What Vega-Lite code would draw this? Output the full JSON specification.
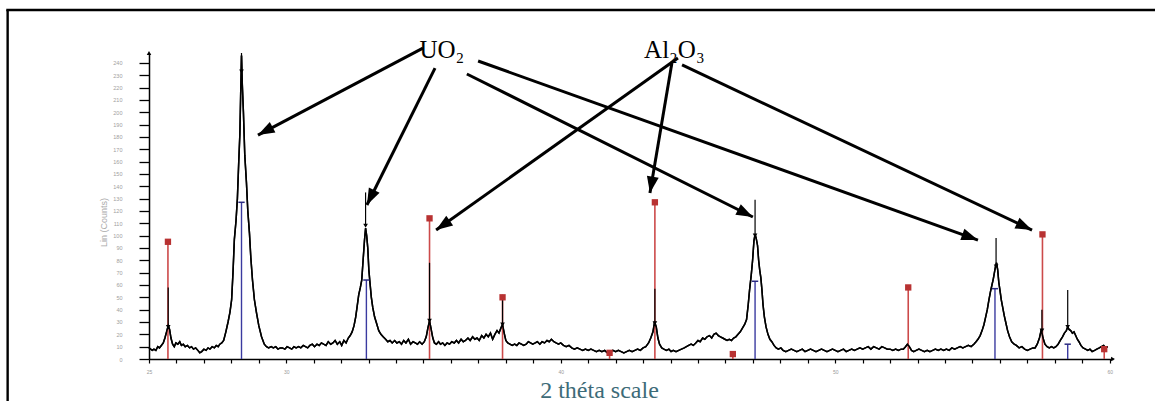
{
  "$schema": "https://vega.github.io/schema/vega-lite/v6.json",
  "autosize": {"type": "none"},
  "padding": {"left": 149, "top": 53, "right": 42, "bottom": 42},
  "width": 964,
  "height": 306,
  "background": "white",
  "config": {"view": {"stroke": null}},
  "datasets": {
    "pattern": [
      {"theta":25.00,"counts":9},{"theta":25.06,"counts":8},{"theta":25.12,"counts":7},{"theta":25.18,"counts":8},{"theta":25.25,"counts":7},{"theta":25.32,"counts":10},{"theta":25.38,"counts":9},{"theta":25.45,"counts":11},{"theta":25.52,"counts":13},{"theta":25.58,"counts":17},{"theta":25.64,"counts":22},{"theta":25.70,"counts":27},{"theta":25.75,"counts":24},{"theta":25.80,"counts":17},{"theta":25.86,"counts":12},{"theta":25.92,"counts":10},{"theta":25.98,"counts":13},{"theta":26.05,"counts":12},{"theta":26.12,"counts":14},{"theta":26.18,"counts":11},{"theta":26.25,"counts":12},{"theta":26.32,"counts":10},{"theta":26.40,"counts":11},{"theta":26.48,"counts":9},{"theta":26.55,"counts":10},{"theta":26.62,"counts":8},{"theta":26.70,"counts":9},{"theta":26.78,"counts":7},{"theta":26.85,"counts":5},{"theta":26.92,"counts":6},{"theta":27.00,"counts":8},{"theta":27.08,"counts":7},{"theta":27.15,"counts":9},{"theta":27.22,"counts":8},{"theta":27.30,"counts":10},{"theta":27.38,"counts":9},{"theta":27.45,"counts":11},{"theta":27.52,"counts":10},{"theta":27.58,"counts":12},{"theta":27.65,"counts":13},{"theta":27.72,"counts":15},{"theta":27.80,"counts":22},{"theta":27.88,"counts":30},{"theta":27.95,"counts":38},{"theta":28.01,"counts":48},{"theta":28.06,"counts":70},{"theta":28.11,"counts":97},{"theta":28.17,"counts":112},{"theta":28.22,"counts":130},{"theta":28.27,"counts":160},{"theta":28.31,"counts":182},{"theta":28.34,"counts":215},{"theta":28.37,"counts":246},{"theta":28.40,"counts":222},{"theta":28.44,"counts":200},{"theta":28.49,"counts":165},{"theta":28.55,"counts":143},{"theta":28.60,"counts":120},{"theta":28.66,"counts":102},{"theta":28.71,"counts":82},{"theta":28.77,"counts":64},{"theta":28.84,"counts":48},{"theta":28.92,"counts":37},{"theta":29.00,"counts":27},{"theta":29.10,"counts":18},{"theta":29.20,"counts":12},{"theta":29.28,"counts":10},{"theta":29.36,"counts":9},{"theta":29.45,"counts":10},{"theta":29.53,"counts":9},{"theta":29.62,"counts":10},{"theta":29.70,"counts":8},{"theta":29.78,"counts":9},{"theta":29.86,"counts":9},{"theta":29.95,"counts":8},{"theta":30.03,"counts":10},{"theta":30.12,"counts":9},{"theta":30.20,"counts":8},{"theta":30.28,"counts":10},{"theta":30.36,"counts":9},{"theta":30.45,"counts":10},{"theta":30.53,"counts":9},{"theta":30.62,"counts":11},{"theta":30.70,"counts":10},{"theta":30.78,"counts":9},{"theta":30.86,"counts":11},{"theta":30.95,"counts":12},{"theta":31.03,"counts":10},{"theta":31.12,"counts":12},{"theta":31.20,"counts":11},{"theta":31.28,"counts":13},{"theta":31.36,"counts":12},{"theta":31.45,"counts":11},{"theta":31.53,"counts":14},{"theta":31.62,"counts":12},{"theta":31.70,"counts":13},{"theta":31.78,"counts":15},{"theta":31.86,"counts":12},{"theta":31.95,"counts":14},{"theta":32.02,"counts":11},{"theta":32.10,"counts":15},{"theta":32.18,"counts":13},{"theta":32.26,"counts":17},{"theta":32.33,"counts":19},{"theta":32.40,"counts":22},{"theta":32.47,"counts":27},{"theta":32.53,"counts":34},{"theta":32.58,"counts":42},{"theta":32.64,"counts":52},{"theta":32.70,"counts":58},{"theta":32.75,"counts":64},{"theta":32.80,"counts":80},{"theta":32.85,"counts":96},{"theta":32.89,"counts":106},{"theta":32.93,"counts":100},{"theta":32.97,"counts":90},{"theta":33.01,"counts":72},{"theta":33.05,"counts":62},{"theta":33.10,"counts":50},{"theta":33.15,"counts":42},{"theta":33.22,"counts":34},{"theta":33.29,"counts":29},{"theta":33.37,"counts":23},{"theta":33.45,"counts":20},{"theta":33.53,"counts":18},{"theta":33.62,"counts":16},{"theta":33.70,"counts":14},{"theta":33.78,"counts":15},{"theta":33.86,"counts":13},{"theta":33.95,"counts":15},{"theta":34.03,"counts":13},{"theta":34.12,"counts":14},{"theta":34.20,"counts":12},{"theta":34.28,"counts":15},{"theta":34.36,"counts":13},{"theta":34.45,"counts":16},{"theta":34.53,"counts":12},{"theta":34.62,"counts":14},{"theta":34.70,"counts":13},{"theta":34.78,"counts":12},{"theta":34.86,"counts":14},{"theta":34.95,"counts":12},{"theta":35.03,"counts":14},{"theta":35.10,"counts":18},{"theta":35.16,"counts":25},{"theta":35.22,"counts":31},{"theta":35.28,"counts":24},{"theta":35.34,"counts":17},{"theta":35.40,"counts":13},{"theta":35.47,"counts":12},{"theta":35.55,"counts":14},{"theta":35.62,"counts":12},{"theta":35.70,"counts":13},{"theta":35.78,"counts":11},{"theta":35.86,"counts":13},{"theta":35.95,"counts":12},{"theta":36.03,"counts":14},{"theta":36.12,"counts":13},{"theta":36.20,"counts":15},{"theta":36.28,"counts":13},{"theta":36.37,"counts":16},{"theta":36.45,"counts":14},{"theta":36.53,"counts":15},{"theta":36.62,"counts":17},{"theta":36.70,"counts":15},{"theta":36.79,"counts":18},{"theta":36.87,"counts":16},{"theta":36.95,"counts":17},{"theta":37.03,"counts":15},{"theta":37.12,"counts":19},{"theta":37.20,"counts":17},{"theta":37.28,"counts":20},{"theta":37.36,"counts":18},{"theta":37.44,"counts":21},{"theta":37.52,"counts":16},{"theta":37.60,"counts":20},{"theta":37.68,"counts":23},{"theta":37.75,"counts":21},{"theta":37.82,"counts":25},{"theta":37.88,"counts":28},{"theta":37.94,"counts":21},{"theta":38.00,"counts":15},{"theta":38.07,"counts":13},{"theta":38.15,"counts":12},{"theta":38.23,"counts":11},{"theta":38.32,"counts":12},{"theta":38.40,"counts":11},{"theta":38.48,"counts":13},{"theta":38.57,"counts":12},{"theta":38.65,"counts":11},{"theta":38.74,"counts":12},{"theta":38.82,"counts":14},{"theta":38.90,"counts":13},{"theta":38.98,"counts":12},{"theta":39.07,"counts":13},{"theta":39.15,"counts":14},{"theta":39.24,"counts":12},{"theta":39.32,"counts":14},{"theta":39.41,"counts":13},{"theta":39.50,"counts":15},{"theta":39.58,"counts":14},{"theta":39.66,"counts":16},{"theta":39.75,"counts":14},{"theta":39.83,"counts":13},{"theta":39.92,"counts":12},{"theta":40.00,"counts":13},{"theta":40.10,"counts":11},{"theta":40.20,"counts":10},{"theta":40.30,"counts":11},{"theta":40.40,"counts":9},{"theta":40.50,"counts":8},{"theta":40.60,"counts":9},{"theta":40.70,"counts":8},{"theta":40.80,"counts":7},{"theta":40.90,"counts":8},{"theta":41.00,"counts":7},{"theta":41.10,"counts":8},{"theta":41.20,"counts":7},{"theta":41.30,"counts":6},{"theta":41.40,"counts":7},{"theta":41.50,"counts":6},{"theta":41.60,"counts":7},{"theta":41.70,"counts":5},{"theta":41.80,"counts":6},{"theta":41.90,"counts":7},{"theta":42.00,"counts":6},{"theta":42.10,"counts":7},{"theta":42.20,"counts":6},{"theta":42.30,"counts":5},{"theta":42.40,"counts":6},{"theta":42.50,"counts":7},{"theta":42.60,"counts":6},{"theta":42.70,"counts":7},{"theta":42.80,"counts":8},{"theta":42.90,"counts":7},{"theta":43.00,"counts":9},{"theta":43.10,"counts":10},{"theta":43.20,"counts":13},{"theta":43.28,"counts":17},{"theta":43.36,"counts":22},{"theta":43.42,"counts":30},{"theta":43.48,"counts":26},{"theta":43.54,"counts":17},{"theta":43.60,"counts":12},{"theta":43.68,"counts":9},{"theta":43.76,"counts":8},{"theta":43.85,"counts":7},{"theta":43.94,"counts":8},{"theta":44.02,"counts":6},{"theta":44.10,"counts":7},{"theta":44.20,"counts":6},{"theta":44.30,"counts":7},{"theta":44.40,"counts":8},{"theta":44.50,"counts":9},{"theta":44.58,"counts":10},{"theta":44.66,"counts":11},{"theta":44.75,"counts":12},{"theta":44.83,"counts":11},{"theta":44.92,"counts":13},{"theta":45.00,"counts":15},{"theta":45.08,"counts":14},{"theta":45.17,"counts":17},{"theta":45.25,"counts":16},{"theta":45.33,"counts":18},{"theta":45.42,"counts":19},{"theta":45.50,"counts":17},{"theta":45.58,"counts":20},{"theta":45.66,"counts":21},{"theta":45.74,"counts":19},{"theta":45.82,"counts":18},{"theta":45.90,"counts":17},{"theta":45.98,"counts":16},{"theta":46.06,"counts":15},{"theta":46.14,"counts":16},{"theta":46.22,"counts":15},{"theta":46.30,"counts":17},{"theta":46.38,"counts":18},{"theta":46.46,"counts":20},{"theta":46.54,"counts":22},{"theta":46.62,"counts":25},{"theta":46.70,"counts":28},{"theta":46.77,"counts":32},{"theta":46.83,"counts":44},{"theta":46.88,"counts":56},{"theta":46.94,"counts":68},{"theta":46.99,"counts":80},{"theta":47.04,"counts":96},{"theta":47.08,"counts":101},{"theta":47.12,"counts":98},{"theta":47.17,"counts":92},{"theta":47.21,"counts":80},{"theta":47.25,"counts":72},{"theta":47.29,"counts":66},{"theta":47.33,"counts":56},{"theta":47.37,"counts":44},{"theta":47.42,"counts":34},{"theta":47.48,"counts":26},{"theta":47.55,"counts":20},{"theta":47.62,"counts":16},{"theta":47.69,"counts":14},{"theta":47.77,"counts":11},{"theta":47.85,"counts":9},{"theta":47.93,"counts":8},{"theta":48.02,"counts":9},{"theta":48.10,"counts":7},{"theta":48.20,"counts":6},{"theta":48.30,"counts":7},{"theta":48.40,"counts":8},{"theta":48.50,"counts":7},{"theta":48.60,"counts":6},{"theta":48.70,"counts":7},{"theta":48.80,"counts":8},{"theta":48.90,"counts":6},{"theta":49.00,"counts":7},{"theta":49.10,"counts":8},{"theta":49.20,"counts":7},{"theta":49.30,"counts":6},{"theta":49.40,"counts":7},{"theta":49.50,"counts":8},{"theta":49.60,"counts":7},{"theta":49.70,"counts":6},{"theta":49.80,"counts":7},{"theta":49.90,"counts":8},{"theta":50.00,"counts":7},{"theta":50.10,"counts":6},{"theta":50.20,"counts":7},{"theta":50.30,"counts":8},{"theta":50.40,"counts":6},{"theta":50.50,"counts":7},{"theta":50.60,"counts":8},{"theta":50.70,"counts":7},{"theta":50.80,"counts":8},{"theta":50.90,"counts":9},{"theta":51.00,"counts":8},{"theta":51.10,"counts":9},{"theta":51.20,"counts":10},{"theta":51.30,"counts":8},{"theta":51.40,"counts":10},{"theta":51.50,"counts":9},{"theta":51.60,"counts":8},{"theta":51.70,"counts":10},{"theta":51.80,"counts":9},{"theta":51.90,"counts":8},{"theta":52.00,"counts":8},{"theta":52.10,"counts":7},{"theta":52.20,"counts":8},{"theta":52.30,"counts":7},{"theta":52.40,"counts":8},{"theta":52.48,"counts":8},{"theta":52.56,"counts":10},{"theta":52.63,"counts":12},{"theta":52.70,"counts":10},{"theta":52.78,"counts":7},{"theta":52.86,"counts":6},{"theta":52.95,"counts":7},{"theta":53.05,"counts":8},{"theta":53.15,"counts":7},{"theta":53.25,"counts":6},{"theta":53.35,"counts":7},{"theta":53.45,"counts":6},{"theta":53.55,"counts":7},{"theta":53.65,"counts":8},{"theta":53.75,"counts":7},{"theta":53.85,"counts":8},{"theta":53.95,"counts":7},{"theta":54.05,"counts":8},{"theta":54.15,"counts":7},{"theta":54.25,"counts":9},{"theta":54.35,"counts":8},{"theta":54.45,"counts":9},{"theta":54.55,"counts":10},{"theta":54.65,"counts":9},{"theta":54.75,"counts":10},{"theta":54.85,"counts":11},{"theta":54.95,"counts":10},{"theta":55.05,"counts":12},{"theta":55.13,"counts":14},{"theta":55.20,"counts":16},{"theta":55.28,"counts":19},{"theta":55.35,"counts":23},{"theta":55.42,"counts":28},{"theta":55.48,"counts":34},{"theta":55.54,"counts":40},{"theta":55.60,"counts":48},{"theta":55.66,"counts":55},{"theta":55.71,"counts":60},{"theta":55.76,"counts":65},{"theta":55.80,"counts":70},{"theta":55.84,"counts":75},{"theta":55.88,"counts":78},{"theta":55.92,"counts":72},{"theta":55.96,"counts":62},{"theta":56.00,"counts":56},{"theta":56.05,"counts":48},{"theta":56.10,"counts":42},{"theta":56.16,"counts":35},{"theta":56.22,"counts":29},{"theta":56.28,"counts":23},{"theta":56.35,"counts":18},{"theta":56.43,"counts":14},{"theta":56.52,"counts":12},{"theta":56.60,"counts":11},{"theta":56.70,"counts":9},{"theta":56.80,"counts":10},{"theta":56.90,"counts":8},{"theta":57.00,"counts":7},{"theta":57.10,"counts":8},{"theta":57.20,"counts":9},{"theta":57.28,"counts":9},{"theta":57.36,"counts":12},{"theta":57.44,"counts":17},{"theta":57.51,"counts":24},{"theta":57.57,"counts":17},{"theta":57.64,"counts":12},{"theta":57.72,"counts":10},{"theta":57.80,"counts":9},{"theta":57.88,"counts":10},{"theta":57.96,"counts":9},{"theta":58.04,"counts":10},{"theta":58.12,"counts":12},{"theta":58.20,"counts":15},{"theta":58.28,"counts":18},{"theta":58.35,"counts":21},{"theta":58.42,"counts":23},{"theta":58.47,"counts":26},{"theta":58.52,"counts":24},{"theta":58.58,"counts":23},{"theta":58.64,"counts":21},{"theta":58.70,"counts":22},{"theta":58.76,"counts":19},{"theta":58.82,"counts":16},{"theta":58.88,"counts":14},{"theta":58.95,"counts":11},{"theta":59.03,"counts":9},{"theta":59.12,"counts":8},{"theta":59.20,"counts":7},{"theta":59.28,"counts":8},{"theta":59.36,"counts":6},{"theta":59.45,"counts":7},{"theta":59.53,"counts":8},{"theta":59.62,"counts":9},{"theta":59.70,"counts":10},{"theta":59.78,"counts":11},{"theta":59.85,"counts":9},{"theta":59.93,"counts":10}
    ],
    "al2o3": [
      {"theta":25.69,"counts":95},{"theta":35.22,"counts":114},{"theta":37.88,"counts":50},{"theta":41.78,"counts":5},{"theta":43.43,"counts":127},{"theta":46.27,"counts":4},{"theta":52.66,"counts":58},{"theta":57.55,"counts":101},{"theta":59.8,"counts":8}
    ],
    "uo2": [
      {"theta":28.37,"counts":127},{"theta":32.92,"counts":64},{"theta":47.08,"counts":63},{"theta":55.82,"counts":57},{"theta":58.47,"counts":12}
    ],
    "peaks": [
      {"theta":25.70,"counts":26,"top":58},{"theta":28.37,"counts":233,"top":248},{"theta":32.89,"counts":108,"top":135},{"theta":35.22,"counts":31,"top":78},{"theta":37.88,"counts":28,"top":52},{"theta":43.43,"counts":29,"top":57},{"theta":47.08,"counts":100,"top":129},{"theta":55.86,"counts":75,"top":98},{"theta":57.53,"counts":23,"top":40},{"theta":58.47,"counts":26,"top":56}
    ],
    "arrows": [
      {"theta":34.98,"counts":252.0,"theta2":28.97,"counts2":181.5,"heading":242},
      {"theta":35.42,"counts":235.8,"theta2":32.94,"counts2":124.8,"heading":206},
      {"theta":36.58,"counts":231.0,"theta2":47.00,"counts2":115.1,"heading":117},
      {"theta":36.99,"counts":241.5,"theta2":55.20,"counts2":96.4,"heading":110},
      {"theta":44.27,"counts":243.9,"theta2":35.46,"counts2":104.5,"heading":235},
      {"theta":44.05,"counts":239.9,"theta2":43.25,"counts2":134.5,"heading":190},
      {"theta":44.42,"counts":238.3,"theta2":57.17,"counts2":104.5,"heading":115}
    ],
    "labels": [
      {"label":"UO₂","theta":35.67,"counts":243.9},
      {"label":"Al₂O₃","theta":44.14,"counts":243.9}
    ]
  },
  "layer": [
    {
      "data": {"name": "pattern"},
      "mark": {"type": "line", "color": "black", "strokeWidth": 1.5},
      "encoding": {
        "x": {"field": "theta", "type": "quantitative",
          "scale": {"domain": [25, 60.12], "nice": false, "zero": false},
          "axis": {"title": "2 théta scale", "grid": false,
            "tickCount": 36,
            "labelExpr": "indexof([25,30,40,50,60], datum.value) >= 0 ? datum.label : ''",
            "labelFontSize": 5, "labelColor": "#9a9a9a", "labelPadding": 6, "labelFlush": false, "labelOverlap": false,
            "tickSize": 4, "tickColor": "black", "tickWidth": 1.2,
            "domainColor": "black", "domainWidth": 1.5,
            "titleFont": "Liberation Serif", "titleFontSize": 24, "titleFontWeight": "normal", "titleColor": "#3d6b78",
            "titleX": 450, "titleY": 38, "titleAlign": "center", "titleBaseline": "alphabetic"}},
        "y": {"field": "counts", "type": "quantitative",
          "scale": {"domain": [0, 248], "nice": false},
          "axis": {"title": "Lin (Counts)", "grid": false,
            "tickCount": 25,
            "labelFontSize": 5.5, "labelColor": "#a0a0a0", "labelPadding": 17, "labelFlush": false, "labelOverlap": false,
            "tickSize": 10, "tickColor": "black", "tickWidth": 1.3,
            "domainColor": "black", "domainWidth": 1.5,
            "titleFont": "Liberation Sans", "titleFontSize": 9, "titleFontWeight": "normal", "titleColor": "#aaaaaa",
            "titleX": -46, "titleY": 169, "titleAlign": "center", "titleBaseline": "middle"}}
      }
    },
    {
      "data": {"name": "al2o3"},
      "mark": {"type": "rule", "color": "#cc4a4a", "strokeWidth": 1.6},
      "encoding": {
        "x": {"field": "theta", "type": "quantitative"},
        "y": {"field": "counts", "type": "quantitative"},
        "y2": {"datum": 0}
      }
    },
    {
      "data": {"name": "uo2"},
      "mark": {"type": "rule", "color": "#3a3aa0", "strokeWidth": 1.4},
      "encoding": {
        "x": {"field": "theta", "type": "quantitative"},
        "y": {"field": "counts", "type": "quantitative"},
        "y2": {"datum": 0}
      }
    },
    {
      "data": {"name": "pattern"},
      "mark": {"type": "line", "color": "black", "strokeWidth": 1.5},
      "encoding": {
        "x": {"field": "theta", "type": "quantitative"},
        "y": {"field": "counts", "type": "quantitative"}
      }
    },
    {
      "data": {"name": "peaks"},
      "mark": {"type": "rule", "color": "black", "strokeWidth": 1.2},
      "encoding": {
        "x": {"field": "theta", "type": "quantitative"},
        "y": {"field": "counts", "type": "quantitative"},
        "y2": {"field": "top"}
      }
    },
    {
      "data": {"name": "peaks"},
      "mark": {"type": "point", "shape": "triangle-down", "filled": true, "color": "black", "size": 22, "opacity": 1},
      "encoding": {
        "x": {"field": "theta", "type": "quantitative"},
        "y": {"field": "counts", "type": "quantitative"}
      }
    },
    {
      "data": {"name": "al2o3"},
      "mark": {"type": "point", "shape": "square", "filled": true, "color": "#b83232", "size": 40, "opacity": 1},
      "encoding": {
        "x": {"field": "theta", "type": "quantitative"},
        "y": {"field": "counts", "type": "quantitative"}
      }
    },
    {
      "data": {"name": "uo2"},
      "mark": {"type": "point", "shape": "stroke", "filled": false, "color": "#2a2a80", "strokeWidth": 1.5, "size": 40, "opacity": 1},
      "encoding": {
        "x": {"field": "theta", "type": "quantitative"},
        "y": {"field": "counts", "type": "quantitative"}
      }
    },
    {
      "data": {"name": "arrows"},
      "mark": {"type": "rule", "color": "black", "strokeWidth": 3, "strokeCap": "butt"},
      "encoding": {
        "x": {"field": "theta", "type": "quantitative"},
        "y": {"field": "counts", "type": "quantitative"},
        "x2": {"field": "theta2"},
        "y2": {"field": "counts2"}
      }
    },
    {
      "data": {"name": "arrows"},
      "mark": {"type": "point", "shape": "M0,0L-0.36,1L0.36,1Z", "filled": true, "color": "black", "size": 1100, "opacity": 1},
      "encoding": {
        "x": {"field": "theta2", "type": "quantitative"},
        "y": {"field": "counts2", "type": "quantitative"},
        "angle": {"field": "heading", "type": "quantitative", "scale": null}
      }
    },
    {
      "data": {"name": "labels"},
      "mark": {"type": "text", "font": "Liberation Serif", "fontSize": 25, "color": "black", "align": "center", "baseline": "alphabetic"},
      "encoding": {
        "x": {"field": "theta", "type": "quantitative"},
        "y": {"field": "counts", "type": "quantitative"},
        "text": {"field": "label"}
      }
    },
    {
      "data": {"values": [{}]},
      "mark": {"type": "rule", "color": "black", "strokeWidth": 2.4},
      "encoding": {
        "x": {"datum": 19.85, "type": "quantitative"},
        "y": {"datum": 282.8, "type": "quantitative"},
        "y2": {"datum": -40}
      }
    },
    {
      "data": {"values": [{}]},
      "mark": {"type": "rule", "color": "black", "strokeWidth": 2.4},
      "encoding": {
        "x": {"datum": 19.8, "type": "quantitative"},
        "x2": {"datum": 62},
        "y": {"datum": 282.8, "type": "quantitative"}
      }
    },
    {
      "data": {"values": [{}]},
      "mark": {"type": "point", "shape": "triangle-up", "filled": true, "color": "black", "size": 20, "opacity": 1},
      "encoding": {
        "x": {"datum": 25, "type": "quantitative"},
        "y": {"datum": 248, "type": "quantitative"}
      }
    },
    {
      "data": {"values": [{}]},
      "mark": {"type": "point", "shape": "triangle-right", "filled": true, "color": "black", "size": 20, "opacity": 1},
      "encoding": {
        "x": {"datum": 60.12, "type": "quantitative"},
        "y": {"datum": 0, "type": "quantitative"}
      }
    }
  ]
}
